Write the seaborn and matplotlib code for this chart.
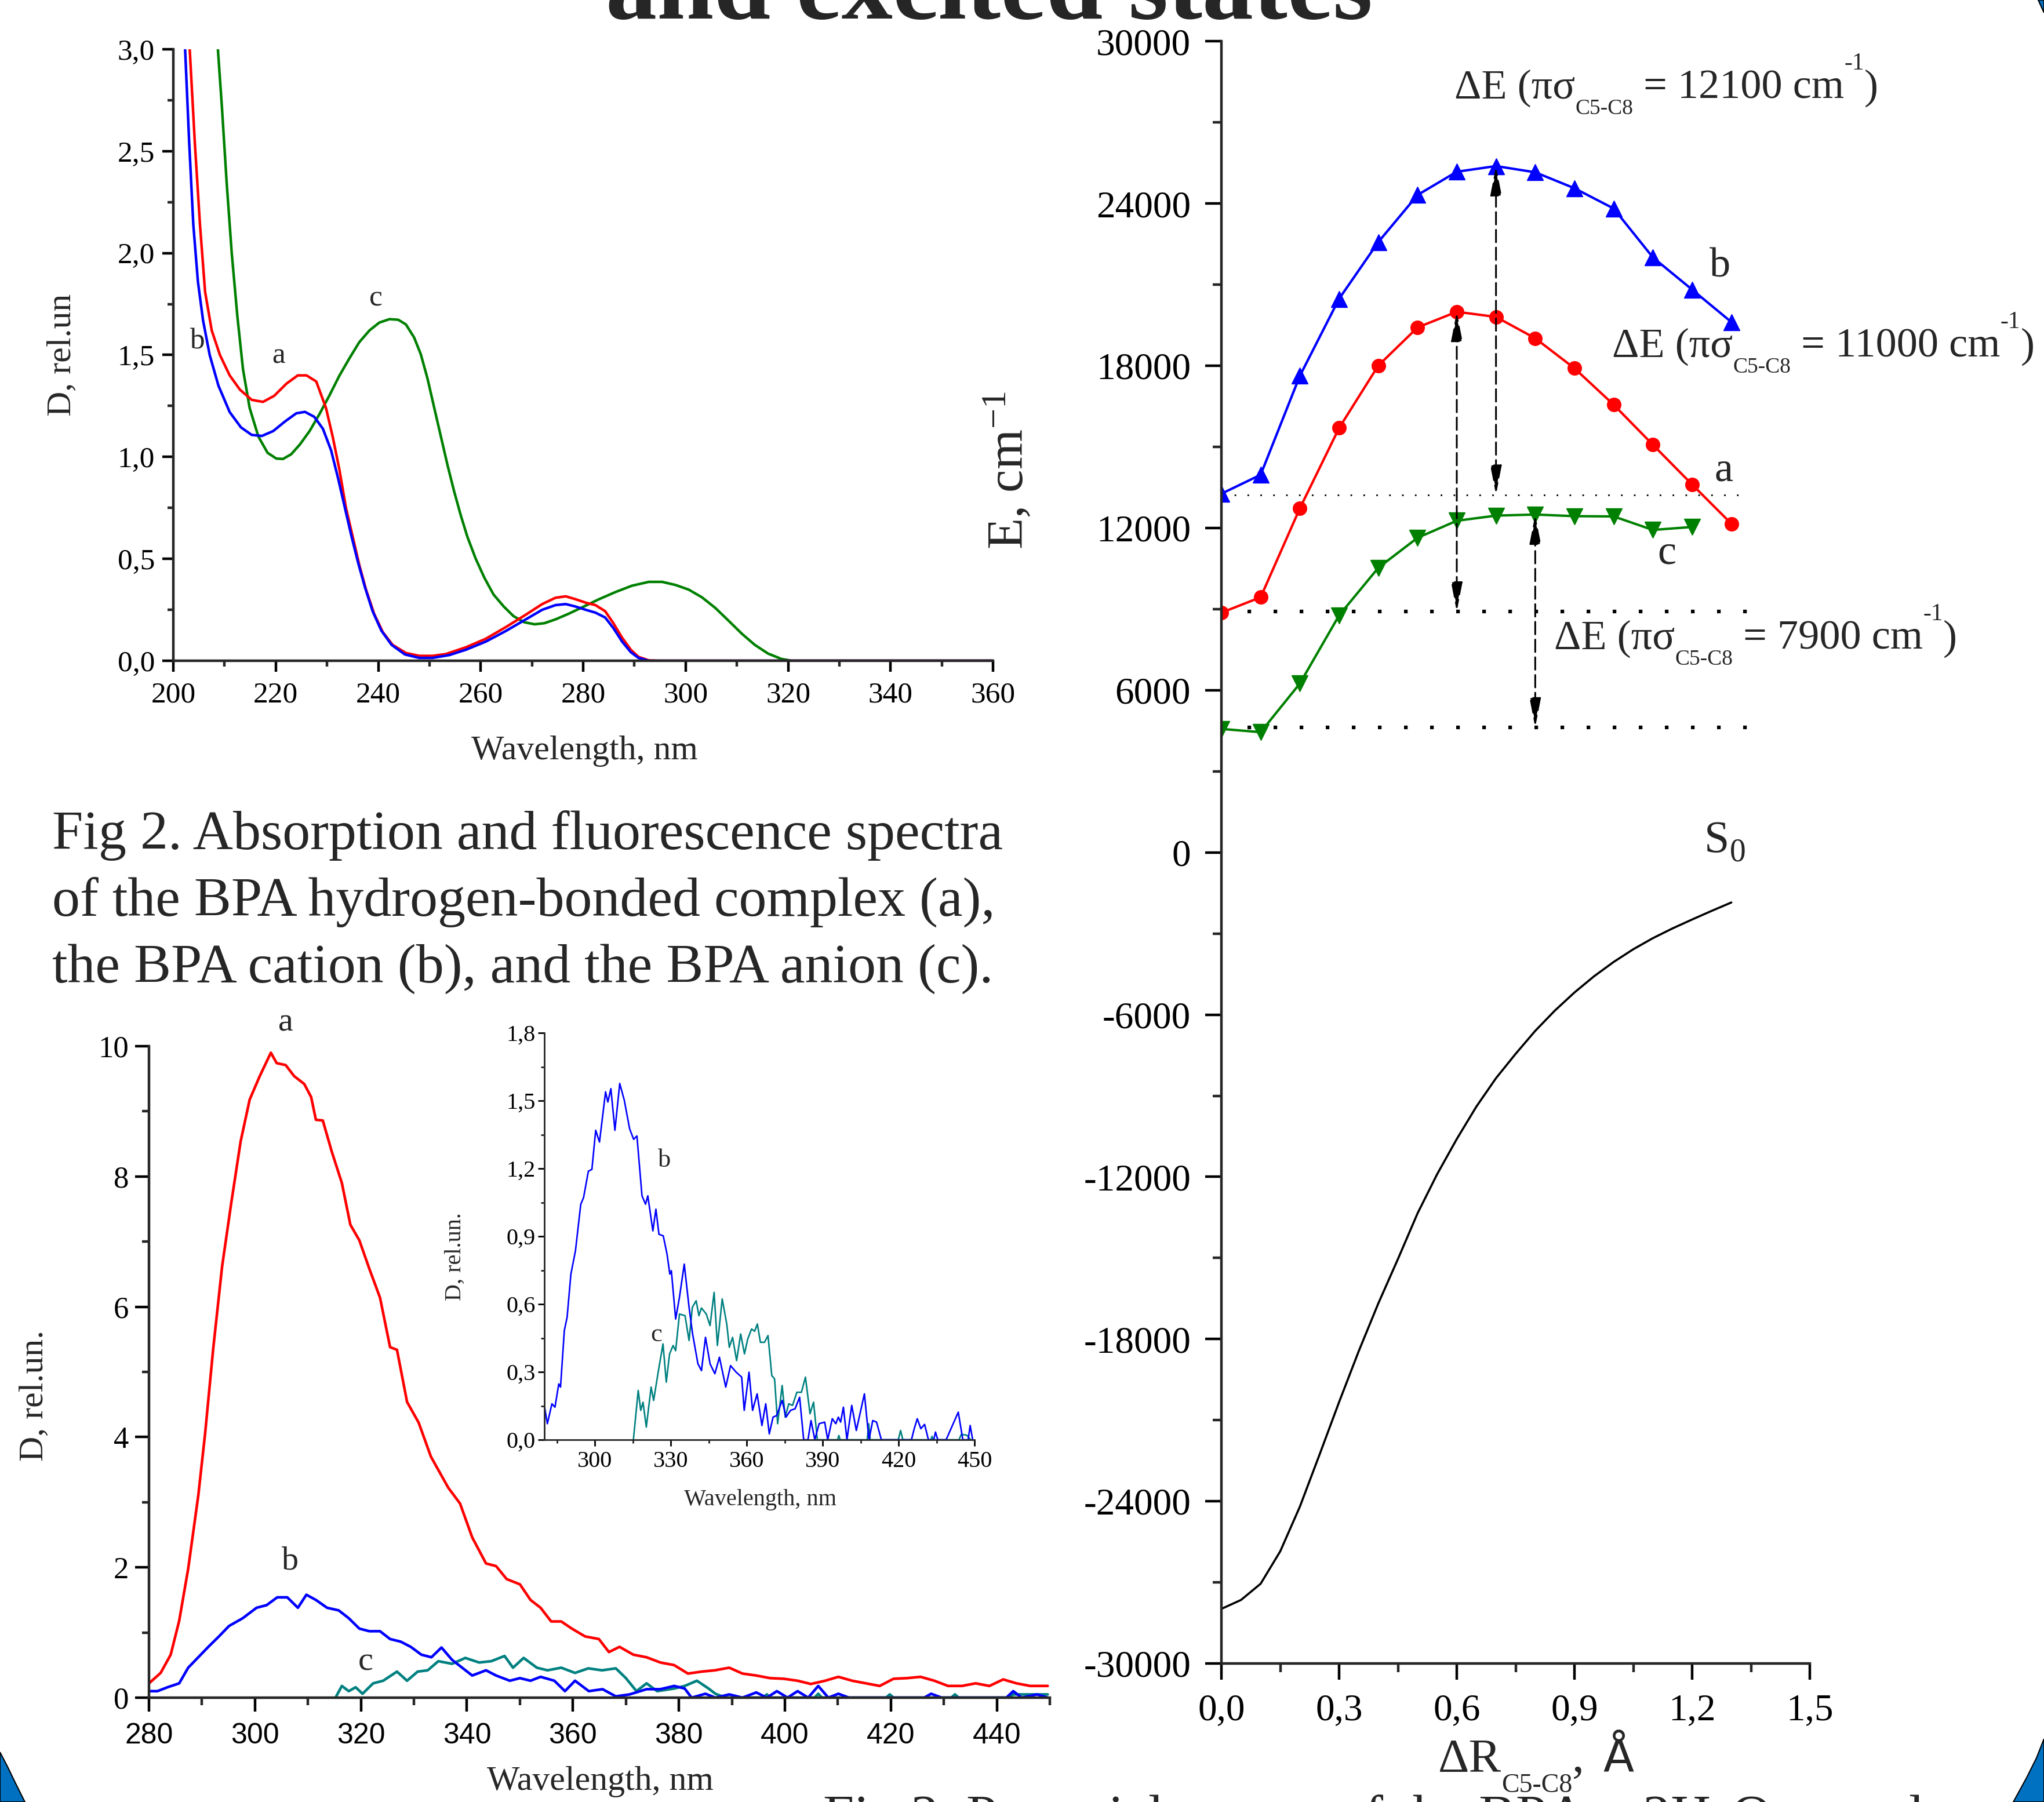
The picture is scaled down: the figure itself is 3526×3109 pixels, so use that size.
import numpy as np
import pandas as pd
import seaborn as sns
import matplotlib.pyplot as plt
from matplotlib.patches import Polygon
from matplotlib.ticker import MultipleLocator, FuncFormatter

# ---------------- absorption spectra (top left) ----------------
abs_x_a = [203.2, 204.2, 205.2, 206.2, 207.5, 209.1, 211.0, 213.0, 215.3, 217.5, 219.7, 222.1, 224.3, 226.0,
           227.9, 229.8, 231.1, 232.4, 233.7, 235.0, 236.3, 237.6, 239.2, 240.9, 242.8, 245.4, 248.0, 250.6,
           253.2, 257.1, 261.0, 264.9, 268.8, 272.0, 274.6, 276.6, 278.5, 280.5, 282.4, 284.3, 285.9, 287.6,
           289.3, 290.8, 292.8, 294.7, 360.0]
abs_a = [3.0, 2.54, 2.14, 1.81, 1.62, 1.50, 1.40, 1.33, 1.28, 1.27, 1.30, 1.36, 1.40, 1.40,
         1.37, 1.24, 1.10, 0.94, 0.75, 0.61, 0.47, 0.35, 0.23, 0.14, 0.078, 0.038, 0.024, 0.024,
         0.033, 0.066, 0.108, 0.165, 0.226, 0.278, 0.309, 0.316, 0.302, 0.285, 0.273, 0.243, 0.184, 0.113,
         0.054, 0.019, 0.002, 0.0, 0.0]
abs_x_b = [202.3, 203.1, 203.9, 204.8, 205.8, 207.1, 208.8, 211.0, 213.2, 215.3, 217.3, 219.5, 221.8, 224.0,
           225.7, 227.5, 229.2, 230.8, 232.2, 233.5, 234.8, 236.1, 237.4, 238.9, 240.6, 242.6, 245.2, 248.0,
           250.6, 253.9, 257.1, 261.0, 264.9, 268.8, 272.0, 274.6, 276.6, 278.5, 280.5, 282.4, 284.3, 285.9,
           287.6, 289.3, 290.8, 292.8, 294.7, 360.0]
abs_b = [3.0, 2.54, 2.14, 1.86, 1.67, 1.50, 1.35, 1.22, 1.145, 1.108, 1.103, 1.127, 1.174, 1.214,
         1.221, 1.197, 1.138, 1.032, 0.891, 0.749, 0.608, 0.478, 0.361, 0.243, 0.148, 0.078, 0.031, 0.014,
         0.014, 0.028, 0.054, 0.094, 0.146, 0.203, 0.250, 0.273, 0.278, 0.266, 0.250, 0.236, 0.212, 0.160,
         0.094, 0.042, 0.014, 0.0, 0.0, 0.0]
abs_x_c = [208.7, 209.5, 210.4, 211.4, 212.5, 213.6, 214.9, 216.6, 218.4, 220.1, 221.4, 223.0, 224.7, 226.6,
           228.5, 230.5, 232.4, 234.4, 236.3, 238.3, 240.2, 242.2, 243.9, 245.4, 247.0, 248.3, 249.6, 250.9,
           252.2, 253.5, 254.8, 256.1, 257.4, 259.0, 260.7, 262.5, 264.5, 266.4, 268.5, 270.5, 272.4, 274.6,
           277.2, 279.8, 283.1, 286.3, 289.5, 292.8, 295.4, 298.0, 300.6, 303.2, 305.8, 308.4, 311.0, 313.5,
           316.1, 318.7, 320.7, 360.0]
abs_c = [3.0, 2.71, 2.35, 2.00, 1.69, 1.43, 1.24, 1.10, 1.02, 0.992, 0.99, 1.013, 1.061, 1.127,
         1.209, 1.303, 1.398, 1.485, 1.563, 1.621, 1.659, 1.676, 1.673, 1.650, 1.586, 1.504, 1.386, 1.244,
         1.103, 0.962, 0.832, 0.714, 0.608, 0.502, 0.408, 0.325, 0.266, 0.219, 0.189, 0.179, 0.184, 0.203,
         0.231, 0.262, 0.302, 0.337, 0.368, 0.387, 0.387, 0.372, 0.349, 0.311, 0.259, 0.196, 0.132, 0.078,
         0.035, 0.009, 0.0, 0.0]

# ---------------- fluorescence spectra (bottom left) ----------------
fl_x_a = [280.0, 282.2, 284.1, 285.7, 287.4, 289.3, 290.6, 292.1, 293.8, 295.5, 297.3, 299.0, 300.9, 303.0,
          304.1, 305.8, 307.4, 309.3, 310.6, 311.5, 312.8, 314.5, 316.4, 318.0, 319.7, 321.6, 323.6, 325.5,
          326.8, 328.7, 330.9, 333.2, 336.5, 338.7, 341.0, 343.6, 345.5, 347.5, 350.0, 352.0, 353.9, 355.9,
          357.8, 359.8, 362.3, 364.9, 366.8, 368.8, 371.4, 373.9, 376.5, 379.1, 381.7, 384.3, 386.8, 389.5,
          392.0, 394.6, 397.2, 399.8, 402.4, 404.9, 407.6, 410.1, 412.7, 415.3, 417.9, 420.5, 423.1, 425.6,
          428.2, 430.8, 433.4, 436.0, 438.6, 441.2, 443.7, 446.3, 449.6]
fl_a = [0.22, 0.38, 0.66, 1.18, 1.98, 3.10, 4.06, 5.34, 6.62, 7.58, 8.54, 9.18, 9.54, 9.90,
        9.74, 9.71, 9.54, 9.42, 9.22, 8.87, 8.86, 8.38, 7.90, 7.26, 7.02, 6.58, 6.14, 5.38,
        5.34, 4.54, 4.22, 3.70, 3.22, 2.98, 2.46, 2.06, 2.02, 1.82, 1.74, 1.50, 1.38, 1.17,
        1.17, 1.06, 0.94, 0.90, 0.70, 0.78, 0.66, 0.62, 0.54, 0.50, 0.37, 0.40, 0.42, 0.46,
        0.37, 0.34, 0.30, 0.29, 0.26, 0.21, 0.26, 0.32, 0.26, 0.22, 0.18, 0.29, 0.30, 0.32,
        0.26, 0.18, 0.18, 0.22, 0.18, 0.28, 0.22, 0.18, 0.18]
fl_x_b = [280.0, 281.6, 283.5, 285.7, 287.4, 289.3, 291.2, 293.2, 295.1, 297.7, 300.3, 302.2, 304.2, 306.1,
          308.1, 309.7, 311.5, 313.6, 315.8, 317.7, 319.7, 321.6, 323.6, 325.5, 327.5, 329.4, 331.4, 333.3,
          335.2, 337.2, 339.1, 341.0, 343.6, 345.5, 348.1, 350.0, 352.0, 353.9, 356.5, 358.5, 360.4, 363.0,
          365.6, 368.1, 370.7, 373.9, 376.5, 379.1, 381.1, 382.4, 385.0, 386.9, 389.5, 392.0, 394.6, 396.6,
          398.5, 400.5, 402.4, 404.4, 406.3, 408.2, 410.1, 412.1, 426.3, 427.6, 429.6, 441.8, 443.1, 444.7,
          447.6, 449.6]
fl_b = [0.10, 0.10, 0.16, 0.22, 0.46, 0.62, 0.78, 0.94, 1.10, 1.22, 1.38, 1.42, 1.54, 1.54,
        1.38, 1.58, 1.50, 1.38, 1.34, 1.22, 1.06, 1.02, 1.02, 0.90, 0.86, 0.78, 0.66, 0.62,
        0.77, 0.58, 0.46, 0.34, 0.42, 0.34, 0.26, 0.30, 0.26, 0.32, 0.26, 0.10, 0.26, 0.10,
        0.13, 0.02, 0.05, 0.13, 0.13, 0.18, 0.14, 0.0, 0.06, 0.0, 0.05, 0.0, 0.08, 0.0,
        0.10, 0.0, 0.10, 0.0, 0.18, 0.0, 0.06, 0.0, 0.0, 0.06, 0.0, 0.0, 0.10, 0.0,
        0.05, 0.0]
fl_x_c = [315.2, 316.4, 317.7, 319.0, 320.3, 322.3, 324.2, 326.8, 328.7, 330.7, 332.6, 334.6, 337.2, 339.7,
          342.3, 344.6, 347.1, 348.7, 350.7, 353.2, 355.2, 357.8, 360.4, 362.9, 365.5, 368.1, 370.0, 372.0,
          373.9, 375.9, 379.1, 381.1, 383.4, 385.6, 386.9, 388.8, 395.9, 396.6, 397.3, 405.6, 406.3, 407.0,
          419.1, 419.8, 420.5, 431.4, 432.1, 432.8, 442.4, 443.1, 449.6]
fl_c = [0.0, 0.18, 0.10, 0.16, 0.06, 0.22, 0.26, 0.40, 0.26, 0.40, 0.42, 0.56, 0.52, 0.61,
        0.54, 0.56, 0.64, 0.46, 0.61, 0.46, 0.42, 0.46, 0.38, 0.45, 0.42, 0.45, 0.30, 0.10,
        0.22, 0.10, 0.14, 0.18, 0.26, 0.14, 0.06, 0.0, 0.0, 0.05, 0.0, 0.0, 0.06, 0.0,
        0.0, 0.05, 0.0, 0.0, 0.05, 0.0, 0.0, 0.05, 0.05]

# ---------------- inset (b and c enlarged) ----------------
in_x_b = [280.1, 281.2, 283.0, 284.2, 285.7, 286.4, 287.9, 289.0, 290.5, 292.3, 294.4, 295.5, 297.4, 298.8,
          300.3, 301.8, 304.2, 305.1, 306.3, 307.9, 309.8, 311.6, 313.7, 315.3, 316.6, 318.6, 320.0, 320.9,
          322.9, 324.1, 325.3, 327.0, 328.5, 329.6, 330.2, 331.9, 333.4, 335.3, 337.2, 338.6, 340.7, 342.1,
          343.7, 345.5, 347.4, 349.2, 351.7, 353.6, 355.8, 358.0, 359.0, 360.9, 362.3, 364.1, 366.0, 367.5,
          368.9, 370.4, 371.8, 374.0, 375.5, 377.3, 379.1, 380.9, 382.5, 384.2, 385.4, 386.9, 388.6, 390.8,
          392.0, 393.8, 395.2, 396.2, 397.1, 398.2, 399.6, 401.5, 403.3, 406.5, 408.3, 409.8, 411.3, 413.2,
          425.1, 426.2, 427.4, 428.8, 430.3, 431.8, 433.9, 434.6, 435.5, 438.8, 443.6, 445.4, 447.5, 448.3,
          449.3]
in_b = [0.144, 0.071, 0.159, 0.144, 0.247, 0.233, 0.483, 0.542, 0.733, 0.836, 1.042, 1.071, 1.188, 1.196,
        1.369, 1.317, 1.539, 1.494, 1.553, 1.369, 1.576, 1.502, 1.376, 1.329, 1.344, 1.079, 1.042, 1.079,
        0.924, 1.020, 0.909, 0.902, 0.821, 0.733, 0.748, 0.534, 0.630, 0.777, 0.586, 0.468, 0.336, 0.306,
        0.453, 0.336, 0.292, 0.365, 0.233, 0.328, 0.299, 0.277, 0.130, 0.299, 0.130, 0.203, 0.063, 0.159,
        0.026, 0.100, 0.107, 0.174, 0.100, 0.130, 0.137, 0.188, 0.0, 0.0, 0.085, 0.0, 0.071, 0.078,
        0.0, 0.093, 0.071, 0.100, 0.078, 0.144, 0.0, 0.152, 0.041, 0.203, 0.0, 0.085, 0.078, 0.0,
        0.0, 0.049, 0.093, 0.049, 0.068, 0.0, 0.0, 0.034, 0.0, 0.0, 0.122, 0.0, 0.0, 0.063,
        0.0]
in_x_c = [315.2, 317.1, 318.1, 319.0, 320.3, 322.2, 323.2, 325.1, 326.9, 328.2, 329.5, 330.9, 331.9, 333.4,
          335.6, 337.2, 338.5, 340.0, 341.1, 342.1, 344.0, 345.5, 347.1, 348.4, 350.3, 352.1, 353.1, 354.4,
          356.0, 357.6, 359.1, 360.4, 361.9, 363.1, 364.2, 365.4, 367.0, 368.4, 369.9, 371.0, 372.2, 374.0,
          375.2, 376.6, 378.1, 379.8, 381.6, 383.2, 385.0, 386.4, 387.9, 395.9, 396.4, 396.9, 407.6, 408.2,
          408.8, 419.9, 420.8, 421.7, 432.8, 433.2, 433.6, 443.9, 444.8, 447.0, 448.5]
in_c = [0.0, 0.218, 0.130, 0.166, 0.056, 0.233, 0.174, 0.306, 0.424, 0.255, 0.380, 0.417, 0.394, 0.556,
        0.549, 0.439, 0.586, 0.615, 0.549, 0.583, 0.556, 0.505, 0.652, 0.417, 0.623, 0.512, 0.409, 0.453,
        0.350, 0.468, 0.380, 0.446, 0.490, 0.480, 0.512, 0.431, 0.431, 0.461, 0.284, 0.269, 0.071, 0.240,
        0.100, 0.159, 0.152, 0.210, 0.210, 0.277, 0.115, 0.166, 0.0, 0.0, 0.019, 0.0, 0.0, 0.071,
        0.0, 0.0, 0.041, 0.0, 0.0, 0.015, 0.0, 0.0, 0.024, 0.020, 0.0]

# ---------------- potential curves (right) ----------------
dr = [0.0, 0.1, 0.2, 0.3, 0.4, 0.5, 0.6, 0.7, 0.8, 0.9, 1.0, 1.1, 1.2, 1.3]
E_b = [13270, 13970, 17630, 20480, 22580, 24320, 25180, 25390, 25160, 24570, 23820, 22010, 20820, 19620]
E_a = [8870, 9440, 12730, 15700, 18010, 19420, 20000, 19810, 19020, 17910, 16560, 15080, 13610, 12160]
E_c = [4570, 4450, 6250, 8770, 10530, 11640, 12270, 12460, 12500, 12440, 12430, 11930, 12040]
s0_x = [0.0, 0.05, 0.1, 0.15, 0.2, 0.25, 0.3, 0.35, 0.4, 0.45, 0.5, 0.55, 0.6, 0.65, 0.7, 0.75, 0.8, 0.85,
        0.9, 0.95, 1.0, 1.05, 1.1, 1.15, 1.2, 1.25, 1.3]
s0_y = [-27980, -27650, -27050, -25850, -24200, -22280, -20330, -18450, -16680, -15040, -13350, -11900,
        -10600, -9400, -8350, -7450, -6600, -5850, -5180, -4580, -4050, -3580, -3170, -2810, -2480, -2160,
        -1850]
levels = [13228, 8906, 4622]  # reference (dotted) levels
gaps = [(0.7, 25390, 13228), (0.6, 20000, 8906), (0.8, 12500, 4622)]

W, H = 3526, 3109

sns.set_style('ticks')
plt.rcParams['font.family'] = ['Liberation Serif', 'DejaVu Serif']
plt.rcParams['mathtext.fontset'] = 'custom'
plt.rcParams['mathtext.rm'] = 'Liberation Serif'
plt.rcParams['mathtext.it'] = 'Liberation Serif:italic'
plt.rcParams['mathtext.bf'] = 'Liberation Serif:bold'

fig = plt.figure(figsize=(W / 100, H / 100), dpi=100)
fig.patch.set_facecolor('white')
rend = fig.canvas.get_renderer()


def box(l, t, r, b):
    return [l / W, 1 - b / H, (r - l) / W, (b - t) / H]


def ftext(x, y, s, **kw):
    return fig.text(x / W, 1 - y / H, s, **kw)


def rich(x, y, parts):
    # pieces of text set one after another; dy shifts the baseline (sub/superscripts)
    for s, fs, dy in parts:
        t = ftext(x, y + dy, s, fontsize=fs, va='baseline')
        x = t.get_window_extent(renderer=rend).x1


def comma(d):
    return FuncFormatter(lambda v, p: f'{v:.{d}f}'.replace('.', ','))


def style(ax, fs, major, minor, lw, pad_x, pad_y):
    sns.despine(ax=ax)
    for s in ['left', 'bottom']:
        ax.spines[s].set_linewidth(lw)
    ax.tick_params(which='major', direction='out', length=major, width=lw, labelsize=fs, colors='black')
    ax.tick_params(which='minor', direction='out', length=minor, width=lw)
    ax.tick_params(axis='x', which='major', pad=pad_x)
    ax.tick_params(axis='y', which='major', pad=pad_y)
    ax.set_facecolor('none')
    ax.set_xlabel('')
    ax.set_ylabel('')


def curve(ax, x, y, color, lw, **kw):
    sns.lineplot(x=x, y=y, ax=ax, color=color, linewidth=lw, estimator=None, sort=False, legend=False, **kw)


# ---- top-left: absorption ----
ax1 = fig.add_axes(box(299, 85, 1713, 1140))
curve(ax1, abs_x_c, abs_c, '#008000', 3.2)
curve(ax1, abs_x_a, abs_a, '#ff0000', 3.2)
curve(ax1, abs_x_b, abs_b, '#0000ff', 3.2)
ax1.set_xlim(200, 360)
ax1.set_ylim(0, 3.0)
ax1.xaxis.set_major_locator(MultipleLocator(20))
ax1.xaxis.set_minor_locator(MultipleLocator(10))
ax1.yaxis.set_major_locator(MultipleLocator(0.5))
ax1.yaxis.set_minor_locator(MultipleLocator(0.25))
ax1.yaxis.set_major_formatter(comma(1))
style(ax1, 37, 14, 7, 3.2, 12, 9)
ftext(340, 589, 'b', fontsize=37, ha='center', va='center')
ftext(481, 614, 'a', fontsize=37, ha='center', va='center')
ftext(648, 515, 'c', fontsize=37, ha='center', va='center')
ftext(108, 612, 'D, rel.un', fontsize=43, rotation=90, ha='center', va='center')
ftext(1008, 1296, 'Wavelength, nm', fontsize=43, ha='center', va='center')

# ---- bottom-left: fluorescence ----
ax2 = fig.add_axes(box(257, 1805, 1811, 2929))
curve(ax2, fl_x_a, fl_a, '#ff0000', 3.3)
curve(ax2, fl_x_c, fl_c, '#008080', 3.3)
curve(ax2, fl_x_b, fl_b, '#0000ff', 3.3)
ax2.set_xlim(280, 450)
ax2.set_ylim(0, 10)
ax2.xaxis.set_major_locator(MultipleLocator(20))
ax2.xaxis.set_minor_locator(MultipleLocator(10))
ax2.yaxis.set_major_locator(MultipleLocator(2))
ax2.yaxis.set_minor_locator(MultipleLocator(1))
style(ax2, 38, 17, 9, 3.2, 14, 8)
for lab in ax2.get_xticklabels():
    lab.set_fontfamily('Liberation Sans')
    lab.set_fontsize(36)
ftext(493, 1765, 'a', fontsize=42, ha='center', va='center')
ftext(501, 2693, 'b', fontsize=42, ha='center', va='center')
ftext(631, 2868, 'c', fontsize=42, ha='center', va='center')
ftext(60, 2408, 'D, rel.un.', fontsize=43, rotation=90, ha='center', va='center')
ftext(1035, 3074, 'Wavelength, nm', fontsize=43, ha='center', va='center')

# ---- inset ----
ax3 = fig.add_axes(box(939, 1782, 1681, 2484))
curve(ax3, in_x_c, in_c, '#008080', 1.9)
curve(ax3, in_x_b, in_b, '#0000ff', 1.9)
ax3.set_xlim(280, 450)
ax3.set_ylim(0, 1.8)
ax3.set_xticks([300, 330, 360, 390, 420, 450])
ax3.xaxis.set_minor_locator(MultipleLocator(15))
ax3.yaxis.set_major_locator(MultipleLocator(0.3))
ax3.yaxis.set_minor_locator(MultipleLocator(0.15))
ax3.yaxis.set_major_formatter(comma(1))
style(ax3, 29, 8, 4.5, 2.0, 6, 3)
ftext(1146, 2002, 'b', fontsize=32, ha='center', va='center')
ftext(1132, 2303, 'c', fontsize=32, ha='center', va='center')
ftext(785, 2168, 'D, rel.un.', fontsize=29, rotation=90, ha='center', va='center')
ftext(1311, 2587, 'Wavelength, nm', fontsize=29, ha='center', va='center')

# ---- right: potential curves ----
ax4 = fig.add_axes(box(2107, 71.5, 3122, 2870))
ax4.plot([0, 1.33], [levels[0]] * 2, color='black', lw=2.0, ls=(0, (1, 7)))
for lv in levels[1:]:
    ax4.plot([0, 1.34], [lv, lv], color='black', lw=4.5, ls=(0, (1, 6.2)))
for xg, top, bot in gaps:
    ax4.annotate('', xy=(xg, top), xytext=(xg, bot),
                 arrowprops=dict(arrowstyle='<|-|>,head_length=1.4,head_width=0.27', color='black',
                                 lw=2.2, ls=(0, (7, 3)), shrinkA=0, shrinkB=0, mutation_scale=22))
curve(ax4, dr, E_b, '#0000ff', 3.0, marker='^', markersize=20, markeredgecolor='#0000ff', markeredgewidth=1)
curve(ax4, dr, E_a, '#ff0000', 3.0, marker='o', markersize=17, markeredgecolor='#ff0000', markeredgewidth=1)
curve(ax4, dr[:len(E_c)], E_c, '#008000', 3.0, marker='v', markersize=20, markeredgecolor='#008000',
      markeredgewidth=1)
curve(ax4, s0_x, s0_y, 'black', 2.6)
ax4.set_xlim(0, 1.5)
ax4.set_ylim(-30000, 30000)
ax4.xaxis.set_major_locator(MultipleLocator(0.3))
ax4.xaxis.set_minor_locator(MultipleLocator(0.15))
ax4.yaxis.set_major_locator(MultipleLocator(6000))
ax4.yaxis.set_minor_locator(MultipleLocator(3000))
ax4.xaxis.set_major_formatter(comma(1))
ax4.yaxis.set_major_formatter(FuncFormatter(lambda v, p: f'{int(round(v))}'))
style(ax4, 47, 20, 11, 3.2, 17, 18)

for x0, y0, val in [(2509, 170, '12100'), (2781, 616, '11000'), (2681, 1120, '7900')]:
    rich(x0, y0, [('ΔE (πσ', 52, 0), ('C5-C8', 27, 27), (' = ' + val + ' cm', 52, 0),
                  ('-1', 30, -50), (')', 52, 0)])
ftext(2967, 460, 'b', fontsize=52, ha='center', va='center')
ftext(2973, 812, 'a', fontsize=52, ha='center', va='center')
ftext(2875, 955, 'c', fontsize=52, ha='center', va='center')
rich(2940, 1470, [('S', 56, 0), ('0', 40, 16)])
ftext(1741, 812, 'E, cm$^{-1}$', fontsize=64, rotation=90, ha='center', va='center')
rich(2481, 3057, [('ΔR', 60, 0), ('C5-C8', 33, 35), (',', 60, 0)])
ftext(2765, 3057, 'Å', fontsize=56, va='baseline', family='DejaVu Sans')

# ---- poster text ----
ftext(1706, 32, 'and excited states', fontsize=127, fontweight='bold', ha='center', va='baseline')
cap = ['Fig 2. Absorption and fluorescence spectra',
       'of the BPA hydrogen-bonded complex (a),',
       'the BPA cation (b), and the BPA anion (c).']
for i, line in enumerate(cap):
    ftext(90, 1465 + 115 * i, line, fontsize=69, va='baseline')
ftext(1419, 3163, 'Fig 3. Potential curves of the BPA – 2H$_2$O complex', fontsize=69, va='baseline')

# ---- poster background corners ----
corners = [
    [(0, 3023), (13, 3048), (27, 3077), (43, 3109), (0, 3109)],
    [(3526, 3000), (3513, 3033), (3496, 3067), (3473, 3109), (3526, 3109)],
    [(3516, 0), (3526, 0), (3526, 22)],
]
for pts in corners:
    fig.add_artist(Polygon([(x / W, 1 - y / H) for x, y in pts], closed=True, transform=fig.transFigure,
                           facecolor='#0070c0', edgecolor='black', lw=1.5))

plt.savefig('out.png', dpi=100)
